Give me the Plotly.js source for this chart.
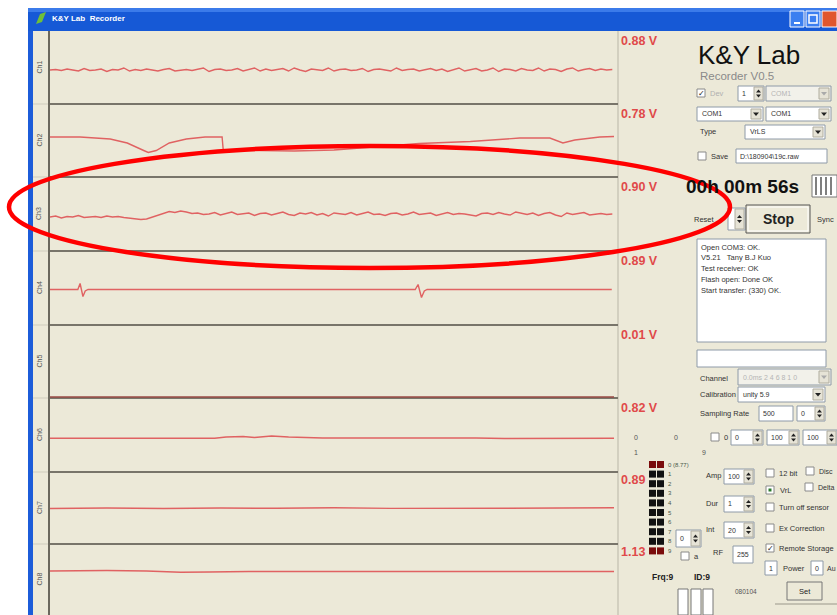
<!DOCTYPE html>
<html><head><meta charset="utf-8">
<script src="https://cdn.plot.ly/plotly-3.0.1.min.js"></script>
<style>html,body{margin:0;padding:0;background:#fff;}#chart{width:837px;height:615px;}</style>
</head><body><div id="chart"></div>
<script>
// ---------- DATA ----------
const channelNames = ['Ch1','Ch2','Ch3','Ch4','Ch5','Ch6','Ch7','Ch8'];
const voltLabels = ['0.88 V','0.78 V','0.90 V','0.89 V','0.01 V','0.82 V','0.89','1.13'];

// channel 1 : noisy, one sample per index 0..99
const ch1 = [-2.5,-2,-3,-1.5,-2.5,-3.5,-1,-3,-2.5,-1.5,
  -4,-2,-2.5,-0.5,-3.5,-2,-3,-1.5,-2.5,-3.5,
  -2,-1,-3.5,-2.5,-2,-3,-1.5,-0.5,-4,-2,
  -1.5,-3,-2.5,-1,-3.5,-2,-0.5,-3.5,-1.5,-3,
  -2,-1,-3.5,-0.5,-2.5,-4,-1.5,-2,-3,-0.5,
  -3.5,-2,-1.5,-3,-2.5,-1,-4,-2,-1.5,-2.5,
  -3.5,-0.5,-3,-2,-1.5,-3.5,-2.5,-1,-3,-1.5,
  -4,-2,-0.5,-3.5,-2,-1,-3.5,-2.5,-0.5,-4,
  -1.5,-2,-3.5,-1,-2.5,-3,-0.5,-3.5,-1.5,-2,
  -4,-1.5,-0.5,-3.5,-2,-1,-3,-1.5,-2.5,-2];
// channel 2 : slow drift with a dip and a step
const ch2x = [0,5.3,10.6,13.6,16.5,17.3,18.7,21,24,27.3,30.3,30.5,37,43,50,58,65,74,82.7,88,90.3,92.4,96.8,99.3];
const ch2y = [3.5,3.5,1.5,-2.5,-10,-12,-10,-2.5,1.5,3.5,3.5,-9.5,-10,-10.5,-9.5,-6,-3,-1,2.5,2.5,-2.5,0.5,3.5,4];
// channel 3 : noisy (the circled one)
const ch3 = [-3,-2,-4,-2.5,-3,-1.5,-3.5,-3,-2.5,-3.5,
  -2,-3,-2.5,-3.5,-4,-5,-5.5,-5,-3,-1,
  1,2.5,1.5,3,2,0.5,1,-0.5,0,1.5,
  -1,0.5,2,-0.5,0,1,-1.5,0.5,1,-1,
  0.5,2,-0.5,-1.5,1,0,1.5,-1,0.5,-2,
  1,0,-0.5,1.5,-1,0.5,2,-0.5,0,-1.5,
  0.5,1,-1,0,2,-0.5,0.5,1,-1.5,0,
  1.5,-0.5,0.5,0,-1,-2,0.5,1,-0.5,1.5,
  0,-1,2,0.5,-0.5,1,-1.5,0.5,1.5,-1,
  -2.5,1,-0.5,0.5,1.5,-1,0,0.5,-0.5,0];
// channel 4 : flat with two spikes
const ch4x = [0,4.9,5.3,5.8,6.2,6.7,64.3,64.8,65.4,65.9,66.4,98.9];
const ch4y = [-1.5,-1.5,4.5,-8.5,-3,-1.5,-1.5,3.5,-9.5,-3,-1.5,-1.5];
// channel 5 : pinned at the bottom
const ch5x = [0,99.3];
const ch5y = [-35.5,-35.5];
// channel 6
const ch6x = [0,29,31,34,36,39,42,45,48,75,80,99.3];
const ch6y = [-3.3,-3.3,-2,-1.5,-2.5,-1,-2,-2.5,-3,-3,-3.5,-3.3];
// channel 7
const ch7x = [0,10,20,30,40,50,60,70,80,90,99.3];
const ch7y = [-0.5,0,-0.5,0,-0.3,0.2,-0.4,0,-0.2,0,0.2];
// channel 8
const ch8x = [0,10,17,23,28,35,50,65,80,99.3];
const ch8y = [8.5,9,8.5,7.3,7.5,8,8,7.8,8,8];

const logLines = ['Open COM3: OK.','V5.21&nbsp;&nbsp;&nbsp;Tany B.J Kuo','Test receiver: OK','Flash open: Done OK','Start transfer: (330) OK.'];
const ledLabels = ['0 (8.77)','1','2','3','4','5','6','7','8','9'];

// ---------- LAYOUT HELPERS ----------
const W = 837, H = 615;
const X = p => p / W, Y = p => 1 - p / H;
const FONT = 'Liberation Sans, Arial, sans-serif';
const shapes = [], ann = [];
function rect(x0,y0,x1,y1,fill,lc,lw,layer){
  shapes.push({type:'rect',xref:'paper',yref:'paper',x0:X(x0),x1:X(x1),y0:Y(y1),y1:Y(y0),
    fillcolor:fill,line:{color:lc||'rgba(0,0,0,0)',width:(lw===undefined?1:lw)},layer:layer||'above'});
}
function line(x0,y0,x1,y1,c,w,layer){
  shapes.push({type:'line',xref:'paper',yref:'paper',x0:X(x0),x1:X(x1),y0:Y(y0),y1:Y(y1),
    line:{color:c,width:w},layer:layer||'above'});
}
function tri(pts,fill){
  let d = 'M ' + pts.map(p => X(p[0]) + ' ' + Y(p[1])).join(' L ') + ' Z';
  shapes.push({type:'path',xref:'paper',yref:'paper',path:d,fillcolor:fill,line:{width:0},layer:'above'});
}
function txt(x,y,t,size,color,opt){
  ann.push(Object.assign({x:X(x),y:Y(y),xref:'paper',yref:'paper',text:t,showarrow:false,
    xanchor:'left',yanchor:'middle',font:{family:FONT,size:size,color:color||'#222'}},opt||{}));
}
function combo(x0,y0,x1,y1,t,dis){
  rect(x0,y0,x1,y1,dis?'#f2f1ea':'#ffffff','#8e9aa8',1);
  rect(x1-12,y0+2,x1-2,y1-2,'#e6e3d6','#b0ad9f',1);
  let cx=(x1-7), cy=(y0+y1)/2;
  tri([[cx-3,cy-1.5],[cx+3,cy-1.5],[cx,cy+2]],dis?'#aaa':'#222');
  if(t) txt(x0+3,(y0+y1)/2,t,7,dis?'#b5b5b5':'#333');
}
function spin(x0,y0,x1,y1,t){
  rect(x0,y0,x1,y1,'#ffffff','#8e9aa8',1);
  rect(x1-10,y0+1,x1-1,y1-1,'#e6e3d6','#b0ad9f',1);
  let cx=x1-5.5, cy=(y0+y1)/2;
  tri([[cx-2.5,cy-1],[cx+2.5,cy-1],[cx,cy-4]],'#222');
  tri([[cx-2.5,cy+1],[cx+2.5,cy+1],[cx,cy+4]],'#222');
  if(t!==undefined) txt(x0+2,cy,t,7,'#333');
}
function tbox(x0,y0,x1,y1,t){
  rect(x0,y0,x1,y1,'#ffffff','#8e9aa8',1);
  if(t) txt(x0+2,(y0+y1)/2,t,7,'#333');
}
function check(x,y,on,label,dis,lsize){
  rect(x,y-4,x+8,y+4,'#ffffff','#8a8a8a',1);
  if(on) txt(x+4,y,'✓',8,'#222',{xanchor:'center'});
  if(label) txt(x+11,y,label,lsize||7.5,dis?'#b0b0b0':'#333');
}

// ---------- WINDOW CHROME ----------
rect(0,0,837,8,'#ffffff',null,0,'below');
rect(0,0,28,615,'#ffffff',null,0,'below');
rect(28,8,837,31,'#1659d6',null,0,'below');
rect(28,8,837,12,'#3b7bea',null,0,'below');
rect(28,31,33,615,'#1c5cd9',null,0,'below');
rect(33,31,837,615,'#ece9d8',null,0,'below');
tri([[36,24],[40,14],[46,12],[42,22]],'#6fbf3a');
txt(50,19,'<b>K&amp;Y Lab&nbsp;&nbsp;Recorder</b>',8,'#ffffff');
rect(790,11,804,27,'#3c7ff0','#ffffff',1);
line(794,23,800,23,'#ffffff',2);
rect(806,11,820,27,'#3c7ff0','#ffffff',1);
rect(809,15,817,23,'rgba(0,0,0,0)','#ffffff',1.5);
rect(822,11,837,27,'#e0562d','#ffffff',1);

// ---------- STRIP CHART FRAME ----------
const bounds = [31,104,177,251,325,398,472,544,615];
rect(49,31,618,615,'#ece9d8',null,0,'below');
line(618,31,618,615,'#b9b6a7',1,'below');
for(let i=1;i<8;i++){
  line(33,bounds[i],49,bounds[i],'#cfccbd',1,'below');
  line(49,bounds[i],618,bounds[i],'#78756a',2,'below');
}
line(49,31,49,615,'#6b685d',2,'below');
for(let i=0;i<8;i++){
  txt(39,(bounds[i]+bounds[i+1])/2,channelNames[i],7,'#555',{textangle:-90,xanchor:'center'});
  let vy = i<6 ? bounds[i]+10 : (i===6? 480 : 552);
  txt(619,vy,'<b>'+voltLabels[i]+'</b>',12.5,'#e04a4a');
}

// ---------- RIGHT PANEL ----------
txt(696,55,'K&amp;Y Lab',26,'#111');
txt(698,76,'Recorder V0.5',11.5,'#8a8a8a');
check(697,93,true,'Dev',true);
spin(738,86,764,101,'1');
combo(766,86,831,101,'COM1',true);
combo(697,107,763,121,'COM1');
combo(766,107,831,121,'COM1');
txt(698,131,'Type',7.5,'#333');
combo(745,125,825,139,'VrLS');
check(698,156,false,'Save');
tbox(736,149,827,163,'D:\\180904\\19c.raw');
txt(684,186,'<b>00h 00m 56s</b>',19,'#111');
rect(812,175,837,197,'#ffffff','#777',1);
for(const lx of [816,821,826,831]) line(lx,177,lx,195,'#555',1.5);
txt(692,219,'Reset',7.5,'#333');
spin(728,208,745,230);
rect(746,205,810,233,'#ece9d8','#555',1);
rect(748,207,808,231,'rgba(0,0,0,0)','#ffffff',1);
txt(778,219,'<b>Stop</b>',14,'#222',{xanchor:'center'});
txt(815,219,'Sync',7.5,'#333');
rect(697,239,826,342,'#ffffff','#8e9aa8',1);
logLines.forEach((l,k)=>txt(699,247+k*10.8,l,7.5,'#333'));
tbox(697,350,826,367);
txt(698,378,'Channel',7.5,'#333');
combo(738,369,831,385,'0.0ms 2 4 6 8 1 0',true);
txt(698,394,'Calibration',7.5,'#333');
combo(738,387,825,402,'unity 5.9');
txt(698,413,'Sampling Rate',7.5,'#333');
tbox(759,406,793,421,'500');
spin(797,406,825,421,'0');
txt(632,437,'0',7,'#555');
txt(672,437,'0',7,'#555');
check(711,437,false,'0');
spin(731,430,763,445,'0');
spin(767,430,799,445,'100');
spin(803,430,837,445,'100');
txt(632,452,'1',7,'#555');
txt(700,452,'9',7,'#555');
for(let r=0;r<10;r++){
  let y0 = 461 + r*9.6, c = (r===0||r===9)?'#7a0b0b':'#111';
  rect(649,y0,656,y0+7,c,null,0);
  rect(657,y0,664,y0+7,c,null,0);
  txt(666,y0+3.5,ledLabels[r],6,'#4a5a4a');
}
txt(704,476,'Amp',7.5,'#333');
spin(724,469,754,484,'100');
check(766,473,false,'12 bit');
check(806,471,false,'Disc',false,7);
rect(766,486,774,494,'#ffffff','#8a8a8a',1);
rect(768.5,488.5,771.5,491.5,'#2a7a2a',null,0);
txt(778,490,'VrL',7.5,'#333');
check(805,487,false,'Delta',false,7);
txt(704,503,'Dur',7.5,'#333');
spin(724,496,754,512,'1');
check(766,507,false,'Turn off sensor');
txt(704,529,'Int',7.5,'#333');
spin(724,522,754,538,'20');
check(766,528,false,'Ex Correction');
spin(676,530,701,547,'0');
txt(711,552,'RF',7.5,'#333');
tbox(733,546,753,563,'255');
check(766,548,true,'Remote Storage');
check(681,556,false,'a');
tbox(765,561,777,575,'1');
txt(781,568,'Power',7.5,'#333');
tbox(811,561,823,575,'0');
txt(825,568,'Au',7,'#333');
txt(650,577,'<b>Frq:9</b>',8.5,'#222');
txt(692,577,'<b>ID:9</b>',8.5,'#222');
for(const bx of [678,691,703]) rect(bx,589,bx+10,615,'#ffffff','#777',1);
txt(733,591,'080104',6.5,'#555');
rect(787,582,822,600,'#ece9d8','#777',1);
txt(804.5,591,'Set',7.5,'#222',{xanchor:'center'});
line(775,604,837,604,'#9a978a',1);

// ---------- RED ELLIPSE ANNOTATION ----------
shapes.push({type:'circle',xref:'paper',yref:'paper',x0:X(9),x1:X(730),y0:Y(268),y1:Y(146),
  line:{color:'#ff0000',width:4.5},fillcolor:'rgba(0,0,0,0)',layer:'above'});

// ---------- TRACES ----------
const idx = n => Array.from({length:n},(_,i)=>i);
const series = [
  {x:idx(ch1.length),y:ch1},{x:ch2x,y:ch2y},{x:idx(ch3.length),y:ch3},{x:ch4x,y:ch4y},
  {x:ch5x,y:ch5y},{x:ch6x,y:ch6y},{x:ch7x,y:ch7y},{x:ch8x,y:ch8y}
];
const traces = [];
const layout = {
  width:W,height:H,margin:{l:0,r:0,t:0,b:0},paper_bgcolor:'#ffffff',plot_bgcolor:'rgba(0,0,0,0)',
  showlegend:false,shapes:shapes,annotations:ann,
  xaxis:{domain:[X(50),X(618)],range:[0,100],visible:false,fixedrange:true}
};
series.forEach((s,i)=>{
  const ya = i===0?'y':'y'+(i+1);
  const h = bounds[i+1]-bounds[i];
  layout[i===0?'yaxis':'yaxis'+(i+1)] = {domain:[Y(bounds[i+1]),Y(bounds[i])],range:[-h/2,h/2],visible:false,fixedrange:true};
  traces.push({type:'scatter',mode:'lines',x:s.x,y:s.y,xaxis:'x',yaxis:ya,
    line:{color:i===4?'#9a4a44':'#e06262',width:1.4},hoverinfo:'skip',cliponaxis:false});
});
Plotly.newPlot('chart',traces,layout,{staticPlot:true,displayModeBar:false});
</script></body></html>
